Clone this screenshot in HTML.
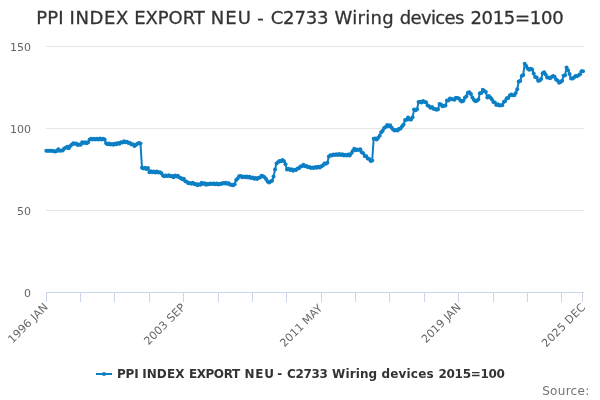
<!DOCTYPE html>
<html><head><meta charset="utf-8">
<style>
html,body{margin:0;padding:0;background:#fff;}
svg{display:block;font-family:"DejaVu Sans","Liberation Sans",Verdana,sans-serif;}
</style></head>
<body>
<svg width="600" height="400" viewBox="0 0 600 400">
<rect x="0" y="0" width="600" height="400" fill="#ffffff"/>
<g stroke="#e6e6e6" stroke-width="1" fill="none">
<path d="M46 46.5H584"/><path d="M46 128.5H584"/><path d="M46 210.5H584"/><path d="M46 292.5H584"/>
</g>
<g stroke="#ccd6eb" stroke-width="1" fill="none">
<path d="M46 292.5H584"/>
<path id="ticks" d="M46.5 292V302M80.5 292V302M114.5 292V302M149.5 292V302M183.5 292V302M218.5 292V302M252.5 292V302M286.5 292V302M321.5 292V302M355.5 292V302M389.5 292V302M424.5 292V302M458.5 292V302M493.5 292V302M527.5 292V302M561.5 292V302M582.5 292V302"/>
</g>
<text id="title" y="24" font-size="18" fill="#333333" stroke="#333333" stroke-width="0.3"><tspan x="36.23" textLength="27.3" lengthAdjust="spacing">PPI</tspan> <tspan x="69.53" textLength="58.7" lengthAdjust="spacing">INDEX</tspan> <tspan x="134.24" textLength="70.5" lengthAdjust="spacing">EXPORT</tspan> <tspan x="210.74" textLength="40.1" lengthAdjust="spacing">NEU</tspan> <tspan x="257.3" textLength="7.2" lengthAdjust="spacing">-</tspan> <tspan x="270.7" textLength="57.7" lengthAdjust="spacing">C2733</tspan> <tspan x="334.4" textLength="59.3" lengthAdjust="spacing">Wiring</tspan> <tspan x="399.7" textLength="64.7" lengthAdjust="spacing">devices</tspan> <tspan x="470.38" textLength="93.2" lengthAdjust="spacing">2015=100</tspan></text>
<g font-size="11" fill="#666666" text-anchor="end">
<text x="31" y="51">150</text>
<text x="31" y="133">100</text>
<text x="31" y="215">50</text>
<text x="31" y="297">0</text>
</g>
<g font-size="11" fill="#666666" text-anchor="end">
<text transform="translate(48.6,307.7) rotate(-45)" textLength="51">1996 JAN</text>
<text transform="translate(186,308) rotate(-45)" textLength="53.2">2003 SEP</text>
<text transform="translate(323,309) rotate(-45)">2011 MAY</text>
<text transform="translate(461.5,308) rotate(-45)">2019 JAN</text>
<text transform="translate(586,308) rotate(-45)" textLength="56.1">2025 DEC</text>
</g>
<g id="series">
<path d="M46.30 150.80 L47.79 150.80 L49.29 150.80 L50.78 150.80 L52.28 150.80 L53.77 151.17 L55.27 151.46 L56.76 151.01 L58.26 149.27 L59.75 150.68 L61.25 150.41 L62.74 150.54 L64.24 148.41 L65.73 147.75 L67.23 146.74 L68.72 148.26 L70.22 145.93 L71.71 144.77 L73.21 143.22 L74.70 143.81 L76.20 143.40 L77.69 144.89 L79.19 144.43 L80.68 144.69 L82.18 142.23 L83.67 143.10 L85.17 142.37 L86.66 143.31 L88.16 142.32 L89.65 139.41 L91.15 138.69 L92.64 139.44 L94.14 138.65 L95.63 139.46 L97.13 138.67 L98.62 139.60 L100.12 138.55 L101.61 139.44 L103.11 138.64 L104.60 139.44 L106.10 143.34 L107.59 144.26 L109.09 143.56 L110.58 144.58 L112.08 143.95 L113.57 144.72 L115.07 143.56 L116.56 144.26 L118.06 143.12 L119.55 143.69 L121.05 142.32 L122.54 142.57 L124.04 141.16 L125.53 142.25 L127.03 141.84 L128.52 142.97 L130.02 143.07 L131.51 144.48 L133.01 144.23 L134.50 145.93 L136.00 144.78 L137.49 143.78 L138.99 142.93 L140.48 143.48 L141.98 167.64 L143.47 168.54 L144.97 167.75 L146.46 169.05 L147.96 168.05 L149.45 172.32 L150.95 171.37 L152.44 172.23 L153.94 171.59 L155.43 172.38 L156.93 171.48 L158.42 172.53 L159.92 172.21 L161.41 173.17 L162.91 175.61 L164.40 176.23 L165.90 175.47 L167.39 176.07 L168.89 175.17 L170.38 176.24 L171.88 176.04 L173.37 177.37 L174.87 175.48 L176.36 176.56 L177.86 175.74 L179.35 177.39 L180.85 178.10 L182.34 179.22 L183.84 178.63 L185.33 181.20 L186.83 181.79 L188.32 183.20 L189.82 182.89 L191.31 183.81 L192.81 182.80 L194.30 183.89 L195.80 183.91 L197.29 185.17 L198.79 184.27 L200.28 184.64 L201.78 182.70 L203.27 183.89 L204.77 183.29 L206.26 184.69 L207.76 183.77 L209.25 184.27 L210.75 183.40 L212.24 184.11 L213.74 183.44 L215.23 184.37 L216.73 183.39 L218.22 184.54 L219.72 183.70 L221.21 184.09 L222.71 182.98 L224.20 183.46 L225.70 182.76 L227.19 183.73 L228.69 183.15 L230.18 184.81 L231.68 184.74 L233.17 185.37 L234.67 184.17 L236.16 179.97 L237.66 178.41 L239.15 176.19 L240.65 175.99 L242.14 177.30 L243.64 176.43 L245.13 177.32 L246.63 176.60 L248.12 177.53 L249.62 176.78 L251.11 177.93 L252.61 177.44 L254.10 178.73 L255.60 178.02 L257.09 179.04 L258.59 177.82 L260.08 177.45 L261.58 175.76 L263.07 176.14 L264.57 177.24 L266.06 178.88 L267.56 181.60 L269.05 182.38 L270.55 181.46 L272.04 180.85 L273.54 176.59 L275.03 169.40 L276.53 163.54 L278.02 162.36 L279.52 160.89 L281.01 161.29 L282.51 160.10 L284.00 161.33 L285.50 164.25 L286.99 169.61 L288.49 168.71 L289.98 169.91 L291.48 169.35 L292.97 170.80 L294.47 169.80 L295.96 170.07 L297.46 168.51 L298.95 168.21 L300.45 166.52 L301.94 166.18 L303.44 164.81 L304.93 166.23 L306.43 166.09 L307.92 167.26 L309.42 166.91 L310.91 167.98 L312.41 167.46 L313.90 168.09 L315.40 167.11 L316.89 167.77 L318.39 166.75 L319.88 167.42 L321.38 166.31 L322.87 165.50 L324.37 163.52 L325.86 163.83 L327.36 162.63 L328.85 156.46 L330.35 155.29 L331.84 155.61 L333.34 154.55 L334.83 154.95 L336.33 154.15 L337.82 154.93 L339.32 153.93 L340.81 154.88 L342.31 154.25 L343.80 155.45 L345.30 154.67 L346.79 155.40 L348.29 154.56 L349.78 155.59 L351.28 153.26 L352.77 150.99 L354.27 148.73 L355.76 150.15 L357.26 149.48 L358.75 150.01 L360.25 149.22 L361.74 152.26 L363.24 153.33 L364.73 156.10 L366.23 156.27 L367.72 158.46 L369.22 159.12 L370.71 160.89 L372.21 160.42 L373.70 138.84 L375.20 138.51 L376.69 139.55 L378.19 137.69 L379.68 135.71 L381.18 132.27 L382.67 130.87 L384.17 127.93 L385.66 127.12 L387.16 125.11 L388.65 126.14 L390.15 125.13 L391.64 127.77 L393.14 129.48 L394.63 130.59 L396.13 130.04 L397.62 130.38 L399.12 128.83 L400.61 128.56 L402.11 126.14 L403.60 124.62 L405.10 119.98 L406.59 119.71 L408.09 117.55 L409.58 119.54 L411.08 119.61 L412.57 117.33 L414.07 109.62 L415.56 110.37 L417.06 109.31 L418.55 101.89 L420.05 101.66 L421.54 102.40 L423.04 101.09 L424.53 102.01 L426.03 102.13 L427.52 105.27 L429.02 106.20 L430.51 107.64 L432.01 107.04 L433.50 108.87 L435.00 108.90 L436.49 109.79 L437.99 109.23 L439.48 103.99 L440.98 104.60 L442.47 106.15 L443.97 105.65 L445.46 105.60 L446.96 100.56 L448.45 100.44 L449.95 98.53 L451.44 99.18 L452.94 99.22 L454.43 99.78 L455.93 97.81 L457.42 98.09 L458.92 98.42 L460.41 100.58 L461.91 101.57 L463.40 100.65 L464.90 97.84 L466.39 96.33 L467.89 92.87 L469.38 92.37 L470.88 93.93 L472.37 97.62 L473.87 99.73 L475.36 101.16 L476.86 100.69 L478.35 99.60 L479.85 93.20 L481.34 92.91 L482.84 89.63 L484.33 90.91 L485.83 91.92 L487.32 97.59 L488.82 95.98 L490.31 97.51 L491.81 99.13 L493.30 101.93 L494.80 102.55 L496.29 104.91 L497.79 104.25 L499.28 105.49 L500.78 105.37 L502.27 105.15 L503.77 101.94 L505.26 101.09 L506.76 98.25 L508.25 97.96 L509.75 95.54 L511.24 94.54 L512.74 95.15 L514.23 95.32 L515.73 93.00 L517.22 89.28 L518.72 81.38 L520.21 80.88 L521.71 76.01 L523.20 75.04 L524.70 63.69 L526.19 65.91 L527.69 68.41 L529.18 69.85 L530.68 68.80 L532.17 69.42 L533.67 73.54 L535.16 76.98 L536.66 77.58 L538.15 80.87 L539.65 80.40 L541.14 79.01 L542.64 73.28 L544.13 72.29 L545.63 74.42 L547.12 77.47 L548.62 77.41 L550.11 78.36 L551.61 76.94 L553.10 75.99 L554.60 76.78 L556.09 79.53 L557.59 80.50 L559.08 82.82 L560.58 81.91 L562.07 80.74 L563.57 75.86 L565.06 75.30 L566.56 67.39 L568.05 70.35 L569.55 74.10 L571.04 78.44 L572.54 78.57 L574.03 77.52 L575.53 75.98 L577.02 76.28 L578.52 75.16 L580.01 74.30 L581.51 71.25 L583.00 71.14" fill="none" stroke="#0d7fc4" stroke-width="2" stroke-linejoin="round" stroke-linecap="round"/>
<g fill="#0d7fc4"><circle cx="46.30" cy="150.80" r="2"/><circle cx="47.79" cy="150.80" r="2"/><circle cx="49.29" cy="150.80" r="2"/><circle cx="50.78" cy="150.80" r="2"/><circle cx="52.28" cy="150.80" r="2"/><circle cx="53.77" cy="151.17" r="2"/><circle cx="55.27" cy="151.46" r="2"/><circle cx="56.76" cy="151.01" r="2"/><circle cx="58.26" cy="149.27" r="2"/><circle cx="59.75" cy="150.68" r="2"/><circle cx="61.25" cy="150.41" r="2"/><circle cx="62.74" cy="150.54" r="2"/><circle cx="64.24" cy="148.41" r="2"/><circle cx="65.73" cy="147.75" r="2"/><circle cx="67.23" cy="146.74" r="2"/><circle cx="68.72" cy="148.26" r="2"/><circle cx="70.22" cy="145.93" r="2"/><circle cx="71.71" cy="144.77" r="2"/><circle cx="73.21" cy="143.22" r="2"/><circle cx="74.70" cy="143.81" r="2"/><circle cx="76.20" cy="143.40" r="2"/><circle cx="77.69" cy="144.89" r="2"/><circle cx="79.19" cy="144.43" r="2"/><circle cx="80.68" cy="144.69" r="2"/><circle cx="82.18" cy="142.23" r="2"/><circle cx="83.67" cy="143.10" r="2"/><circle cx="85.17" cy="142.37" r="2"/><circle cx="86.66" cy="143.31" r="2"/><circle cx="88.16" cy="142.32" r="2"/><circle cx="89.65" cy="139.41" r="2"/><circle cx="91.15" cy="138.69" r="2"/><circle cx="92.64" cy="139.44" r="2"/><circle cx="94.14" cy="138.65" r="2"/><circle cx="95.63" cy="139.46" r="2"/><circle cx="97.13" cy="138.67" r="2"/><circle cx="98.62" cy="139.60" r="2"/><circle cx="100.12" cy="138.55" r="2"/><circle cx="101.61" cy="139.44" r="2"/><circle cx="103.11" cy="138.64" r="2"/><circle cx="104.60" cy="139.44" r="2"/><circle cx="106.10" cy="143.34" r="2"/><circle cx="107.59" cy="144.26" r="2"/><circle cx="109.09" cy="143.56" r="2"/><circle cx="110.58" cy="144.58" r="2"/><circle cx="112.08" cy="143.95" r="2"/><circle cx="113.57" cy="144.72" r="2"/><circle cx="115.07" cy="143.56" r="2"/><circle cx="116.56" cy="144.26" r="2"/><circle cx="118.06" cy="143.12" r="2"/><circle cx="119.55" cy="143.69" r="2"/><circle cx="121.05" cy="142.32" r="2"/><circle cx="122.54" cy="142.57" r="2"/><circle cx="124.04" cy="141.16" r="2"/><circle cx="125.53" cy="142.25" r="2"/><circle cx="127.03" cy="141.84" r="2"/><circle cx="128.52" cy="142.97" r="2"/><circle cx="130.02" cy="143.07" r="2"/><circle cx="131.51" cy="144.48" r="2"/><circle cx="133.01" cy="144.23" r="2"/><circle cx="134.50" cy="145.93" r="2"/><circle cx="136.00" cy="144.78" r="2"/><circle cx="137.49" cy="143.78" r="2"/><circle cx="138.99" cy="142.93" r="2"/><circle cx="140.48" cy="143.48" r="2"/><circle cx="141.98" cy="167.64" r="2"/><circle cx="143.47" cy="168.54" r="2"/><circle cx="144.97" cy="167.75" r="2"/><circle cx="146.46" cy="169.05" r="2"/><circle cx="147.96" cy="168.05" r="2"/><circle cx="149.45" cy="172.32" r="2"/><circle cx="150.95" cy="171.37" r="2"/><circle cx="152.44" cy="172.23" r="2"/><circle cx="153.94" cy="171.59" r="2"/><circle cx="155.43" cy="172.38" r="2"/><circle cx="156.93" cy="171.48" r="2"/><circle cx="158.42" cy="172.53" r="2"/><circle cx="159.92" cy="172.21" r="2"/><circle cx="161.41" cy="173.17" r="2"/><circle cx="162.91" cy="175.61" r="2"/><circle cx="164.40" cy="176.23" r="2"/><circle cx="165.90" cy="175.47" r="2"/><circle cx="167.39" cy="176.07" r="2"/><circle cx="168.89" cy="175.17" r="2"/><circle cx="170.38" cy="176.24" r="2"/><circle cx="171.88" cy="176.04" r="2"/><circle cx="173.37" cy="177.37" r="2"/><circle cx="174.87" cy="175.48" r="2"/><circle cx="176.36" cy="176.56" r="2"/><circle cx="177.86" cy="175.74" r="2"/><circle cx="179.35" cy="177.39" r="2"/><circle cx="180.85" cy="178.10" r="2"/><circle cx="182.34" cy="179.22" r="2"/><circle cx="183.84" cy="178.63" r="2"/><circle cx="185.33" cy="181.20" r="2"/><circle cx="186.83" cy="181.79" r="2"/><circle cx="188.32" cy="183.20" r="2"/><circle cx="189.82" cy="182.89" r="2"/><circle cx="191.31" cy="183.81" r="2"/><circle cx="192.81" cy="182.80" r="2"/><circle cx="194.30" cy="183.89" r="2"/><circle cx="195.80" cy="183.91" r="2"/><circle cx="197.29" cy="185.17" r="2"/><circle cx="198.79" cy="184.27" r="2"/><circle cx="200.28" cy="184.64" r="2"/><circle cx="201.78" cy="182.70" r="2"/><circle cx="203.27" cy="183.89" r="2"/><circle cx="204.77" cy="183.29" r="2"/><circle cx="206.26" cy="184.69" r="2"/><circle cx="207.76" cy="183.77" r="2"/><circle cx="209.25" cy="184.27" r="2"/><circle cx="210.75" cy="183.40" r="2"/><circle cx="212.24" cy="184.11" r="2"/><circle cx="213.74" cy="183.44" r="2"/><circle cx="215.23" cy="184.37" r="2"/><circle cx="216.73" cy="183.39" r="2"/><circle cx="218.22" cy="184.54" r="2"/><circle cx="219.72" cy="183.70" r="2"/><circle cx="221.21" cy="184.09" r="2"/><circle cx="222.71" cy="182.98" r="2"/><circle cx="224.20" cy="183.46" r="2"/><circle cx="225.70" cy="182.76" r="2"/><circle cx="227.19" cy="183.73" r="2"/><circle cx="228.69" cy="183.15" r="2"/><circle cx="230.18" cy="184.81" r="2"/><circle cx="231.68" cy="184.74" r="2"/><circle cx="233.17" cy="185.37" r="2"/><circle cx="234.67" cy="184.17" r="2"/><circle cx="236.16" cy="179.97" r="2"/><circle cx="237.66" cy="178.41" r="2"/><circle cx="239.15" cy="176.19" r="2"/><circle cx="240.65" cy="175.99" r="2"/><circle cx="242.14" cy="177.30" r="2"/><circle cx="243.64" cy="176.43" r="2"/><circle cx="245.13" cy="177.32" r="2"/><circle cx="246.63" cy="176.60" r="2"/><circle cx="248.12" cy="177.53" r="2"/><circle cx="249.62" cy="176.78" r="2"/><circle cx="251.11" cy="177.93" r="2"/><circle cx="252.61" cy="177.44" r="2"/><circle cx="254.10" cy="178.73" r="2"/><circle cx="255.60" cy="178.02" r="2"/><circle cx="257.09" cy="179.04" r="2"/><circle cx="258.59" cy="177.82" r="2"/><circle cx="260.08" cy="177.45" r="2"/><circle cx="261.58" cy="175.76" r="2"/><circle cx="263.07" cy="176.14" r="2"/><circle cx="264.57" cy="177.24" r="2"/><circle cx="266.06" cy="178.88" r="2"/><circle cx="267.56" cy="181.60" r="2"/><circle cx="269.05" cy="182.38" r="2"/><circle cx="270.55" cy="181.46" r="2"/><circle cx="272.04" cy="180.85" r="2"/><circle cx="273.54" cy="176.59" r="2"/><circle cx="275.03" cy="169.40" r="2"/><circle cx="276.53" cy="163.54" r="2"/><circle cx="278.02" cy="162.36" r="2"/><circle cx="279.52" cy="160.89" r="2"/><circle cx="281.01" cy="161.29" r="2"/><circle cx="282.51" cy="160.10" r="2"/><circle cx="284.00" cy="161.33" r="2"/><circle cx="285.50" cy="164.25" r="2"/><circle cx="286.99" cy="169.61" r="2"/><circle cx="288.49" cy="168.71" r="2"/><circle cx="289.98" cy="169.91" r="2"/><circle cx="291.48" cy="169.35" r="2"/><circle cx="292.97" cy="170.80" r="2"/><circle cx="294.47" cy="169.80" r="2"/><circle cx="295.96" cy="170.07" r="2"/><circle cx="297.46" cy="168.51" r="2"/><circle cx="298.95" cy="168.21" r="2"/><circle cx="300.45" cy="166.52" r="2"/><circle cx="301.94" cy="166.18" r="2"/><circle cx="303.44" cy="164.81" r="2"/><circle cx="304.93" cy="166.23" r="2"/><circle cx="306.43" cy="166.09" r="2"/><circle cx="307.92" cy="167.26" r="2"/><circle cx="309.42" cy="166.91" r="2"/><circle cx="310.91" cy="167.98" r="2"/><circle cx="312.41" cy="167.46" r="2"/><circle cx="313.90" cy="168.09" r="2"/><circle cx="315.40" cy="167.11" r="2"/><circle cx="316.89" cy="167.77" r="2"/><circle cx="318.39" cy="166.75" r="2"/><circle cx="319.88" cy="167.42" r="2"/><circle cx="321.38" cy="166.31" r="2"/><circle cx="322.87" cy="165.50" r="2"/><circle cx="324.37" cy="163.52" r="2"/><circle cx="325.86" cy="163.83" r="2"/><circle cx="327.36" cy="162.63" r="2"/><circle cx="328.85" cy="156.46" r="2"/><circle cx="330.35" cy="155.29" r="2"/><circle cx="331.84" cy="155.61" r="2"/><circle cx="333.34" cy="154.55" r="2"/><circle cx="334.83" cy="154.95" r="2"/><circle cx="336.33" cy="154.15" r="2"/><circle cx="337.82" cy="154.93" r="2"/><circle cx="339.32" cy="153.93" r="2"/><circle cx="340.81" cy="154.88" r="2"/><circle cx="342.31" cy="154.25" r="2"/><circle cx="343.80" cy="155.45" r="2"/><circle cx="345.30" cy="154.67" r="2"/><circle cx="346.79" cy="155.40" r="2"/><circle cx="348.29" cy="154.56" r="2"/><circle cx="349.78" cy="155.59" r="2"/><circle cx="351.28" cy="153.26" r="2"/><circle cx="352.77" cy="150.99" r="2"/><circle cx="354.27" cy="148.73" r="2"/><circle cx="355.76" cy="150.15" r="2"/><circle cx="357.26" cy="149.48" r="2"/><circle cx="358.75" cy="150.01" r="2"/><circle cx="360.25" cy="149.22" r="2"/><circle cx="361.74" cy="152.26" r="2"/><circle cx="363.24" cy="153.33" r="2"/><circle cx="364.73" cy="156.10" r="2"/><circle cx="366.23" cy="156.27" r="2"/><circle cx="367.72" cy="158.46" r="2"/><circle cx="369.22" cy="159.12" r="2"/><circle cx="370.71" cy="160.89" r="2"/><circle cx="372.21" cy="160.42" r="2"/><circle cx="373.70" cy="138.84" r="2"/><circle cx="375.20" cy="138.51" r="2"/><circle cx="376.69" cy="139.55" r="2"/><circle cx="378.19" cy="137.69" r="2"/><circle cx="379.68" cy="135.71" r="2"/><circle cx="381.18" cy="132.27" r="2"/><circle cx="382.67" cy="130.87" r="2"/><circle cx="384.17" cy="127.93" r="2"/><circle cx="385.66" cy="127.12" r="2"/><circle cx="387.16" cy="125.11" r="2"/><circle cx="388.65" cy="126.14" r="2"/><circle cx="390.15" cy="125.13" r="2"/><circle cx="391.64" cy="127.77" r="2"/><circle cx="393.14" cy="129.48" r="2"/><circle cx="394.63" cy="130.59" r="2"/><circle cx="396.13" cy="130.04" r="2"/><circle cx="397.62" cy="130.38" r="2"/><circle cx="399.12" cy="128.83" r="2"/><circle cx="400.61" cy="128.56" r="2"/><circle cx="402.11" cy="126.14" r="2"/><circle cx="403.60" cy="124.62" r="2"/><circle cx="405.10" cy="119.98" r="2"/><circle cx="406.59" cy="119.71" r="2"/><circle cx="408.09" cy="117.55" r="2"/><circle cx="409.58" cy="119.54" r="2"/><circle cx="411.08" cy="119.61" r="2"/><circle cx="412.57" cy="117.33" r="2"/><circle cx="414.07" cy="109.62" r="2"/><circle cx="415.56" cy="110.37" r="2"/><circle cx="417.06" cy="109.31" r="2"/><circle cx="418.55" cy="101.89" r="2"/><circle cx="420.05" cy="101.66" r="2"/><circle cx="421.54" cy="102.40" r="2"/><circle cx="423.04" cy="101.09" r="2"/><circle cx="424.53" cy="102.01" r="2"/><circle cx="426.03" cy="102.13" r="2"/><circle cx="427.52" cy="105.27" r="2"/><circle cx="429.02" cy="106.20" r="2"/><circle cx="430.51" cy="107.64" r="2"/><circle cx="432.01" cy="107.04" r="2"/><circle cx="433.50" cy="108.87" r="2"/><circle cx="435.00" cy="108.90" r="2"/><circle cx="436.49" cy="109.79" r="2"/><circle cx="437.99" cy="109.23" r="2"/><circle cx="439.48" cy="103.99" r="2"/><circle cx="440.98" cy="104.60" r="2"/><circle cx="442.47" cy="106.15" r="2"/><circle cx="443.97" cy="105.65" r="2"/><circle cx="445.46" cy="105.60" r="2"/><circle cx="446.96" cy="100.56" r="2"/><circle cx="448.45" cy="100.44" r="2"/><circle cx="449.95" cy="98.53" r="2"/><circle cx="451.44" cy="99.18" r="2"/><circle cx="452.94" cy="99.22" r="2"/><circle cx="454.43" cy="99.78" r="2"/><circle cx="455.93" cy="97.81" r="2"/><circle cx="457.42" cy="98.09" r="2"/><circle cx="458.92" cy="98.42" r="2"/><circle cx="460.41" cy="100.58" r="2"/><circle cx="461.91" cy="101.57" r="2"/><circle cx="463.40" cy="100.65" r="2"/><circle cx="464.90" cy="97.84" r="2"/><circle cx="466.39" cy="96.33" r="2"/><circle cx="467.89" cy="92.87" r="2"/><circle cx="469.38" cy="92.37" r="2"/><circle cx="470.88" cy="93.93" r="2"/><circle cx="472.37" cy="97.62" r="2"/><circle cx="473.87" cy="99.73" r="2"/><circle cx="475.36" cy="101.16" r="2"/><circle cx="476.86" cy="100.69" r="2"/><circle cx="478.35" cy="99.60" r="2"/><circle cx="479.85" cy="93.20" r="2"/><circle cx="481.34" cy="92.91" r="2"/><circle cx="482.84" cy="89.63" r="2"/><circle cx="484.33" cy="90.91" r="2"/><circle cx="485.83" cy="91.92" r="2"/><circle cx="487.32" cy="97.59" r="2"/><circle cx="488.82" cy="95.98" r="2"/><circle cx="490.31" cy="97.51" r="2"/><circle cx="491.81" cy="99.13" r="2"/><circle cx="493.30" cy="101.93" r="2"/><circle cx="494.80" cy="102.55" r="2"/><circle cx="496.29" cy="104.91" r="2"/><circle cx="497.79" cy="104.25" r="2"/><circle cx="499.28" cy="105.49" r="2"/><circle cx="500.78" cy="105.37" r="2"/><circle cx="502.27" cy="105.15" r="2"/><circle cx="503.77" cy="101.94" r="2"/><circle cx="505.26" cy="101.09" r="2"/><circle cx="506.76" cy="98.25" r="2"/><circle cx="508.25" cy="97.96" r="2"/><circle cx="509.75" cy="95.54" r="2"/><circle cx="511.24" cy="94.54" r="2"/><circle cx="512.74" cy="95.15" r="2"/><circle cx="514.23" cy="95.32" r="2"/><circle cx="515.73" cy="93.00" r="2"/><circle cx="517.22" cy="89.28" r="2"/><circle cx="518.72" cy="81.38" r="2"/><circle cx="520.21" cy="80.88" r="2"/><circle cx="521.71" cy="76.01" r="2"/><circle cx="523.20" cy="75.04" r="2"/><circle cx="524.70" cy="63.69" r="2"/><circle cx="526.19" cy="65.91" r="2"/><circle cx="527.69" cy="68.41" r="2"/><circle cx="529.18" cy="69.85" r="2"/><circle cx="530.68" cy="68.80" r="2"/><circle cx="532.17" cy="69.42" r="2"/><circle cx="533.67" cy="73.54" r="2"/><circle cx="535.16" cy="76.98" r="2"/><circle cx="536.66" cy="77.58" r="2"/><circle cx="538.15" cy="80.87" r="2"/><circle cx="539.65" cy="80.40" r="2"/><circle cx="541.14" cy="79.01" r="2"/><circle cx="542.64" cy="73.28" r="2"/><circle cx="544.13" cy="72.29" r="2"/><circle cx="545.63" cy="74.42" r="2"/><circle cx="547.12" cy="77.47" r="2"/><circle cx="548.62" cy="77.41" r="2"/><circle cx="550.11" cy="78.36" r="2"/><circle cx="551.61" cy="76.94" r="2"/><circle cx="553.10" cy="75.99" r="2"/><circle cx="554.60" cy="76.78" r="2"/><circle cx="556.09" cy="79.53" r="2"/><circle cx="557.59" cy="80.50" r="2"/><circle cx="559.08" cy="82.82" r="2"/><circle cx="560.58" cy="81.91" r="2"/><circle cx="562.07" cy="80.74" r="2"/><circle cx="563.57" cy="75.86" r="2"/><circle cx="565.06" cy="75.30" r="2"/><circle cx="566.56" cy="67.39" r="2"/><circle cx="568.05" cy="70.35" r="2"/><circle cx="569.55" cy="74.10" r="2"/><circle cx="571.04" cy="78.44" r="2"/><circle cx="572.54" cy="78.57" r="2"/><circle cx="574.03" cy="77.52" r="2"/><circle cx="575.53" cy="75.98" r="2"/><circle cx="577.02" cy="76.28" r="2"/><circle cx="578.52" cy="75.16" r="2"/><circle cx="580.01" cy="74.30" r="2"/><circle cx="581.51" cy="71.25" r="2"/><circle cx="583.00" cy="71.14" r="2"/></g>
</g>
<g id="legend">
<path d="M96 374H112" stroke="#0d7fc4" stroke-width="2" fill="none"/>
<circle cx="104" cy="374" r="2" fill="#0d7fc4"/>
<text id="legtext" y="378" font-size="12" font-weight="bold" fill="#333333"><tspan x="116.9" textLength="21.7" lengthAdjust="spacing">PPI</tspan> <tspan x="142.15" textLength="42.3" lengthAdjust="spacing">INDEX</tspan> <tspan x="188.9" textLength="51.2" lengthAdjust="spacing">EXPORT</tspan> <tspan x="244.5" textLength="29.4" lengthAdjust="spacing">NEU</tspan> <tspan x="277.35" textLength="5.3" lengthAdjust="spacing">-</tspan> <tspan x="286.9" textLength="41.0" lengthAdjust="spacing">C2733</tspan> <tspan x="332.1" textLength="45.1" lengthAdjust="spacing">Wiring</tspan> <tspan x="381.5" textLength="52.1" lengthAdjust="spacing">devices</tspan> <tspan x="438.55" textLength="66.25" lengthAdjust="spacing">2015=100</tspan></text>
</g>
<text x="589.2" y="395" text-anchor="end" font-size="12" fill="#737373" textLength="47">Source:</text>
</svg>
</body></html>
